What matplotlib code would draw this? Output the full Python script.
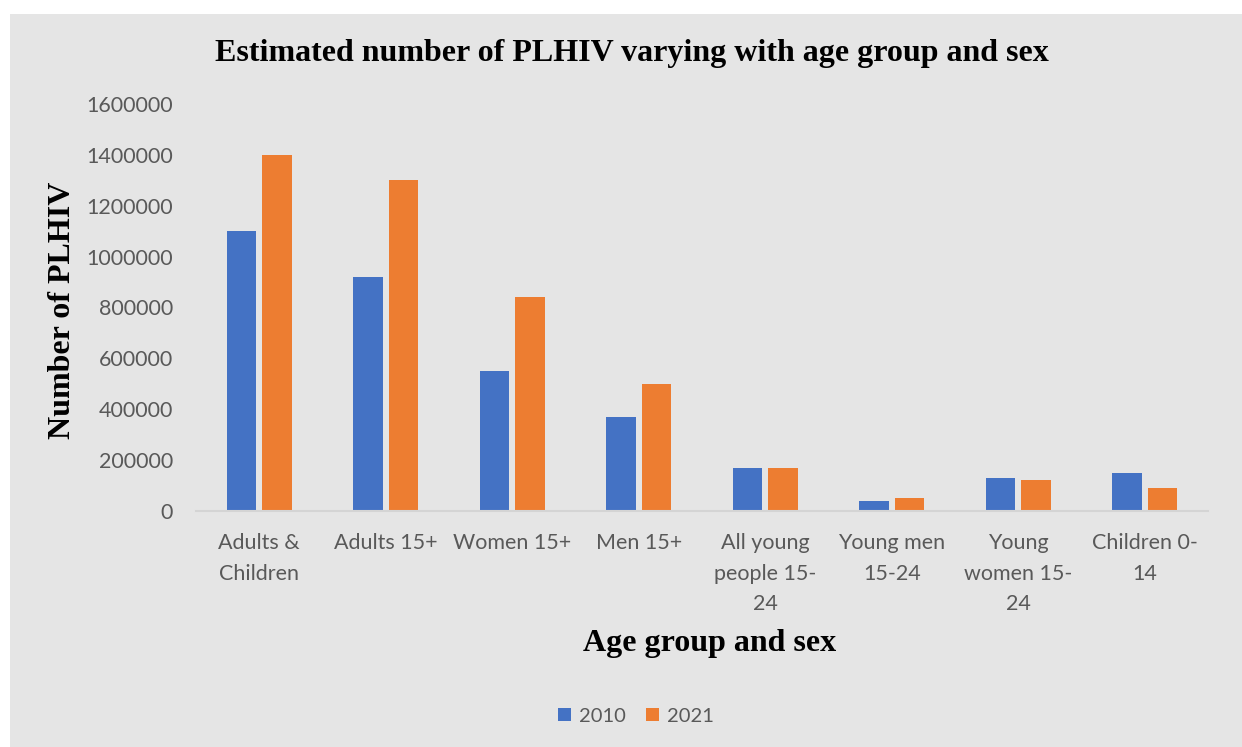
import numpy as np
import matplotlib.pyplot as plt
from matplotlib.patches import Rectangle

categories = ["Adults &\nChildren", "Adults 15+", "Women 15+", "Men 15+",
              "All young\npeople 15-\n24", "Young men\n15-24",
              "Young\nwomen 15-\n24", "Children 0-\n14"]
vals_2010 = [1100000, 920000, 550000, 370000, 170000, 40000, 130000, 150000]
vals_2021 = [1400000, 1300000, 840000, 500000, 170000, 50000, 120000, 90000]
yticks = [0, 200000, 400000, 600000, 800000, 1000000, 1200000, 1400000, 1600000]

blue = "#4472C4"
orange = "#ED7D31"
txt = "#595959"
bg = "#E5E5E5"

fig = plt.figure(figsize=(12.42, 7.47), dpi=100)
fig.patch.set_facecolor("white")
fig.patches.append(Rectangle((10 / 1242, 0), 1 - 10 / 1242, 1 - 14 / 747,
                             transform=fig.transFigure, facecolor=bg,
                             edgecolor="none", zorder=-10))

ax = fig.add_axes([196 / 1242, 1 - 511 / 747, (1208 - 196) / 1242, (511 - 104) / 747])
ax.set_facecolor("none")

x = np.arange(len(categories))
w = 0.23
gap = 0.05
ax.bar(x - (w + gap) / 2, vals_2010, w, color=blue, label="2010")
ax.bar(x + (w + gap) / 2, vals_2021, w, color=orange, label="2021")

ax.set_xlim(-0.5, len(categories) - 0.5)
ax.set_ylim(0, 1600000)
ax.set_yticks(yticks)
ax.set_yticklabels([str(v) for v in yticks])
ax.set_xticks(x)
ax.set_xticklabels(categories, linespacing=1.65)
ax.tick_params(axis="both", length=0, labelsize=15.5, labelcolor=txt)
ax.tick_params(axis="x", pad=16)
ax.tick_params(axis="y", pad=16.5)
for lab in ax.get_xticklabels() + ax.get_yticklabels():
    lab.set_family("Lato")

for s in ["top", "right", "left"]:
    ax.spines[s].set_visible(False)
ax.spines["bottom"].set_color("#D4D4D4")
ax.spines["bottom"].set_linewidth(1.5)

fig.text(632 / 1242, 1 - 54 / 747, "Estimated number of PLHIV varying with age group and sex",
         ha="center", va="center", fontsize=23, fontweight="bold",
         family="Liberation Serif")
fig.text(62 / 1242, 1 - 310 / 747, "Number of PLHIV", rotation=90,
         ha="center", va="center", fontsize=23, fontweight="bold",
         family="Liberation Serif")
fig.text(710 / 1242, 1 - 643 / 747, "Age group and sex",
         ha="center", va="center", fontsize=23, fontweight="bold",
         family="Liberation Serif")

leg = fig.legend(loc="center", bbox_to_anchor=(636 / 1242, 1 - 716 / 747), ncol=2,
                 frameon=False, prop={"family": "Lato", "size": 14.5},
                 handlelength=0.65, handleheight=0.65, handletextpad=0.4,
                 columnspacing=1.0)
for t in leg.get_texts():
    t.set_color(txt)

fig.savefig("out.png", dpi=100, facecolor=fig.get_facecolor())
